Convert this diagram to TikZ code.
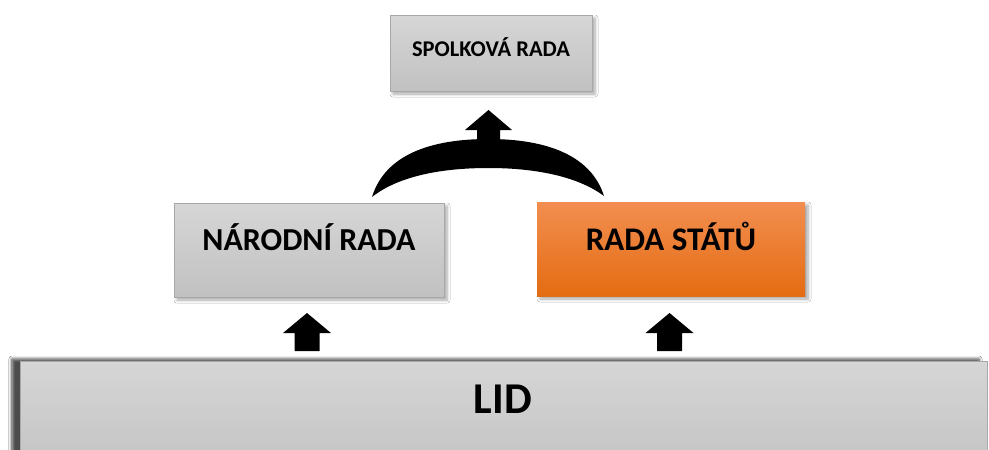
\documentclass[tikz,border=0pt]{standalone}
\usepackage{fontspec}
\setmainfont{Carlito}
\usetikzlibrary{calc,shadows.blur}

\definecolor{greytop}{HTML}{D6D6D6}
\definecolor{greybot}{HTML}{C1C1C1}
\definecolor{greyline}{HTML}{A8A8A8}
\definecolor{orangetop}{HTML}{F28E50}
\definecolor{orangebot}{HTML}{E46C12}

\tikzset{
  panel/.style={rectangle, anchor=north west, inner sep=0pt, outer sep=0pt,
    top color=greytop, bottom color=greybot, draw=greyline, line width=1pt,
    blur shadow={shadow xshift=3pt, shadow yshift=-3pt, shadow blur steps=6,
      shadow blur radius=3pt, shadow opacity=35}},
  hotpanel/.style={panel, top color=orangetop, bottom color=orangebot, draw=none},
  caption/.style={font=\bfseries, text=black, inner sep=0pt},
  pics/uparrow/.style={code={
    \fill[black] (-12.5,0) -- (-12.5,-18) -- (-24,-18) -- (0,-38)
      -- (24,-18) -- (12.5,-18) -- (12.5,0) -- cycle;}}
}

\begin{document}
\begin{tikzpicture}[x=1pt,y=-1pt]
\useasboundingbox[fill=white] (0,0) rectangle (989,450);
\clip (0,0) rectangle (989,450);

% the three councils and the people
\node[panel, minimum width=202pt, minimum height=76pt] (spol) at (390,15) {};
\node[panel, minimum width=270pt, minimum height=94pt] (nar) at (174,203) {};
\node[hotpanel, minimum width=268pt, minimum height=94pt] (sta) at (537,202) {};
\node[panel, minimum width=967pt, minimum height=120pt,
  blur shadow={shadow xshift=-8pt, shadow yshift=2pt, shadow blur steps=6,
    shadow blur radius=3pt, shadow opacity=45}] (lid) at (20,361) {};

% labels
\node[caption, font=\bfseries\fontsize{22.5}{26}\selectfont] (tspol) at ($(spol.center)+(0,-6)$) {SPOLKOVÁ RADA};
\node[caption, font=\bfseries\fontsize{32}{36}\selectfont] (tnar) at ($(nar.center)+(0,-13)$) {NÁRODNÍ RADA};
\node[caption, font=\bfseries\fontsize{33}{37}\selectfont] (tsta) at ($(sta.center)+(0,-13)$) {RADA STÁTŮ};
\node[caption, font=\bfseries\fontsize{44}{48}\selectfont] (tlid) at (503,399) {LID};

% block arrows from the people up to both chambers
\pic at ($(lid.north -| nar.south)+(-2,-10)$) {uparrow};
\pic at ($(lid.north -| sta.south)+(-1.5,-10)$) {uparrow};

% curved joint arrow from both chambers to the federal council
\coordinate (arcL) at (372,197);
\coordinate (arcR) at (604,196);
\coordinate (arcT) at ($(spol.south)+(-2.5,48)$);
\fill[black] (arcL) .. controls (385,155) and (430,139) .. (arcT)
  .. controls (546,139) and (591,155) .. (arcR)
  .. controls (580,178) and (540,168) .. (488.5,168)
  .. controls (436,168) and (396,178) .. (arcL) -- cycle;
\fill[black] (477,141) -- (477,130) -- (465,130) -- (488.5,110) -- (512,130)
  -- (500,130) -- (500,141) -- cycle;
\end{tikzpicture}
\end{document}
